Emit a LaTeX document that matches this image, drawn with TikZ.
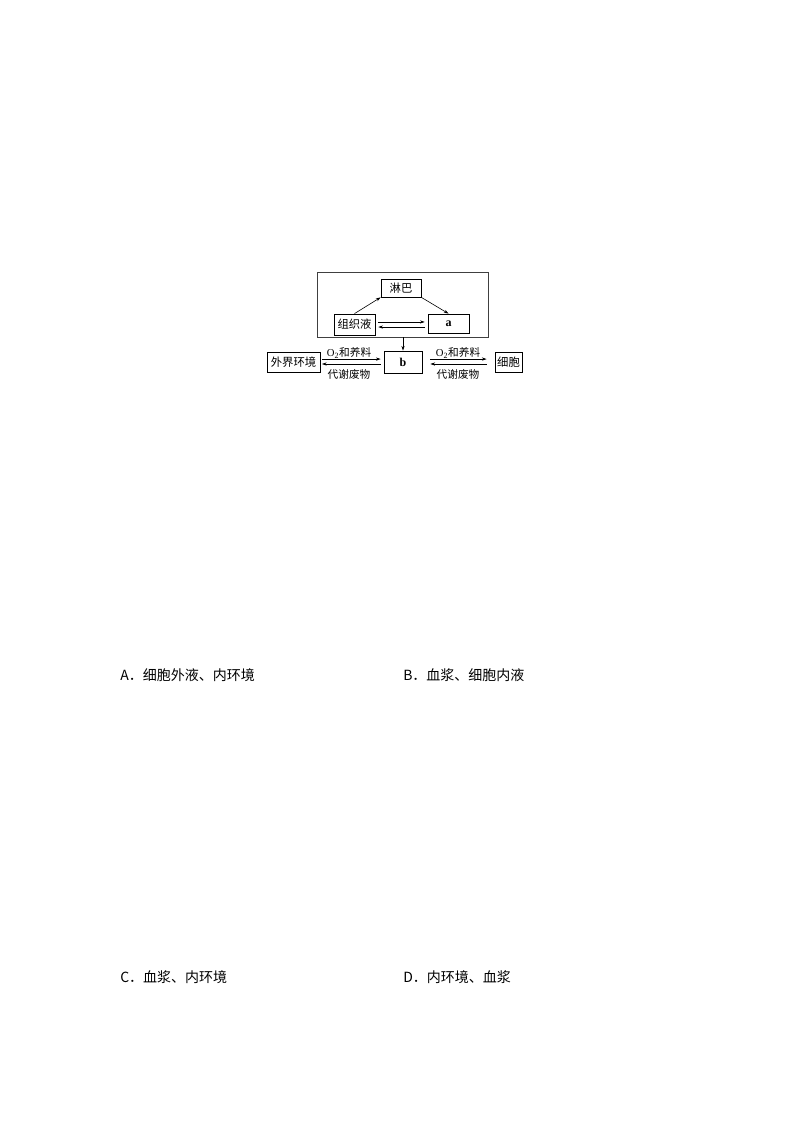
\documentclass[tikz,border=0pt]{standalone}
\usepackage{fontspec}
\usetikzlibrary{arrows.meta}
\newfontfamily\cjk{Noto Sans CJK SC}
\setmainfont{Liberation Serif}
\begin{document}
\begin{tikzpicture}[x=0.75pt,y=-0.75pt,
  bx/.style={draw,line width=0.6pt,inner sep=0pt,font=\cjk\fontsize{8.5pt}{9pt}\selectfont},
  ar/.style={-{Stealth[length=3.5pt,width=2.4pt]},line width=0.45pt},
  lab/.style={font=\cjk\fontsize{8pt}{9pt}\selectfont,inner sep=0pt},
  opt/.style={font=\cjk\fontsize{10.5pt}{12pt}\selectfont,anchor=west,inner sep=0pt}]
\useasboundingbox (0,0) rectangle (794,1123);
% outer frame
\node[draw,line width=0.7pt,black!75,minimum width=128.25pt,minimum height=48.75pt,inner sep=0pt] (frame) at (402.5,304.5) {};
\node[bx,minimum width=30pt,minimum height=13.5pt] (lb) at (401,288) {淋巴};
\node[bx,minimum width=30.75pt,minimum height=15.75pt] (zzy) at (354.5,324.5) {组织液};
\node[bx,minimum width=30.75pt,minimum height=14.25pt,font=\fontsize{9pt}{10pt}\selectfont\bfseries] (a) at (448.5,323.5) {a};
\node[bx,minimum width=28.5pt,minimum height=16.5pt,font=\fontsize{9pt}{10pt}\selectfont\bfseries] (b) at (403,362) {b};
\node[bx,minimum width=39.75pt,minimum height=15pt] (wj) at (293.5,362) {外界环境};
\node[bx,minimum width=20.25pt,minimum height=15pt] (xb) at (508.5,362) {细胞};
% arrows inside frame
\draw[ar] (zzy.north) -- (lb.south west);
\draw[ar] (lb.south east) -- (a.north);
\draw[ar,shorten <=2.2pt,shorten >=2.2pt] ([yshift=1.9pt]zzy.east) -- ([yshift=1.9pt]zzy.east -| a.west);
\draw[ar,shorten <=2.2pt,shorten >=2.2pt] ([yshift=-1.9pt]zzy.east -| a.west) -- ([yshift=-1.9pt]zzy.east);
\draw[ar] (frame.south -| b.north) -- (b.north);
% exchange with outside
\draw[ar,shorten <=1.2pt,shorten >=2.2pt] ([yshift=2.2pt]wj.east) -- ([yshift=2.2pt]b.west);
\draw[ar,shorten <=2.2pt,shorten >=1.2pt] ([yshift=-1.5pt]b.west) -- ([yshift=-1.5pt]wj.east);
\draw[ar,shorten <=6pt,shorten >=6pt] ([yshift=2.2pt]b.east) -- ([yshift=2.2pt]xb.west);
\draw[ar,shorten <=6pt,shorten >=6pt] ([yshift=-1.5pt]xb.west) -- ([yshift=-1.5pt]b.east);
\node[lab] (l1) at (349,353) {{\rmfamily O\textsubscript{2}}和养料};
\node[lab] (l2) at (349,374) {代谢废物};
\node[lab] (l3) at (458,353) {{\rmfamily O\textsubscript{2}}和养料};
\node[lab] (l4) at (458,374) {代谢废物};
% options
\node[opt] (oA) at (120,675) {A．细胞外液、内环境};
\node[opt] (oB) at (403,675) {B．血浆、细胞内液};
\node[opt] (oC) at (120,977) {C．血浆、内环境};
\node[opt] (oD) at (403,977) {D．内环境、血浆};
\end{tikzpicture}
\end{document}
